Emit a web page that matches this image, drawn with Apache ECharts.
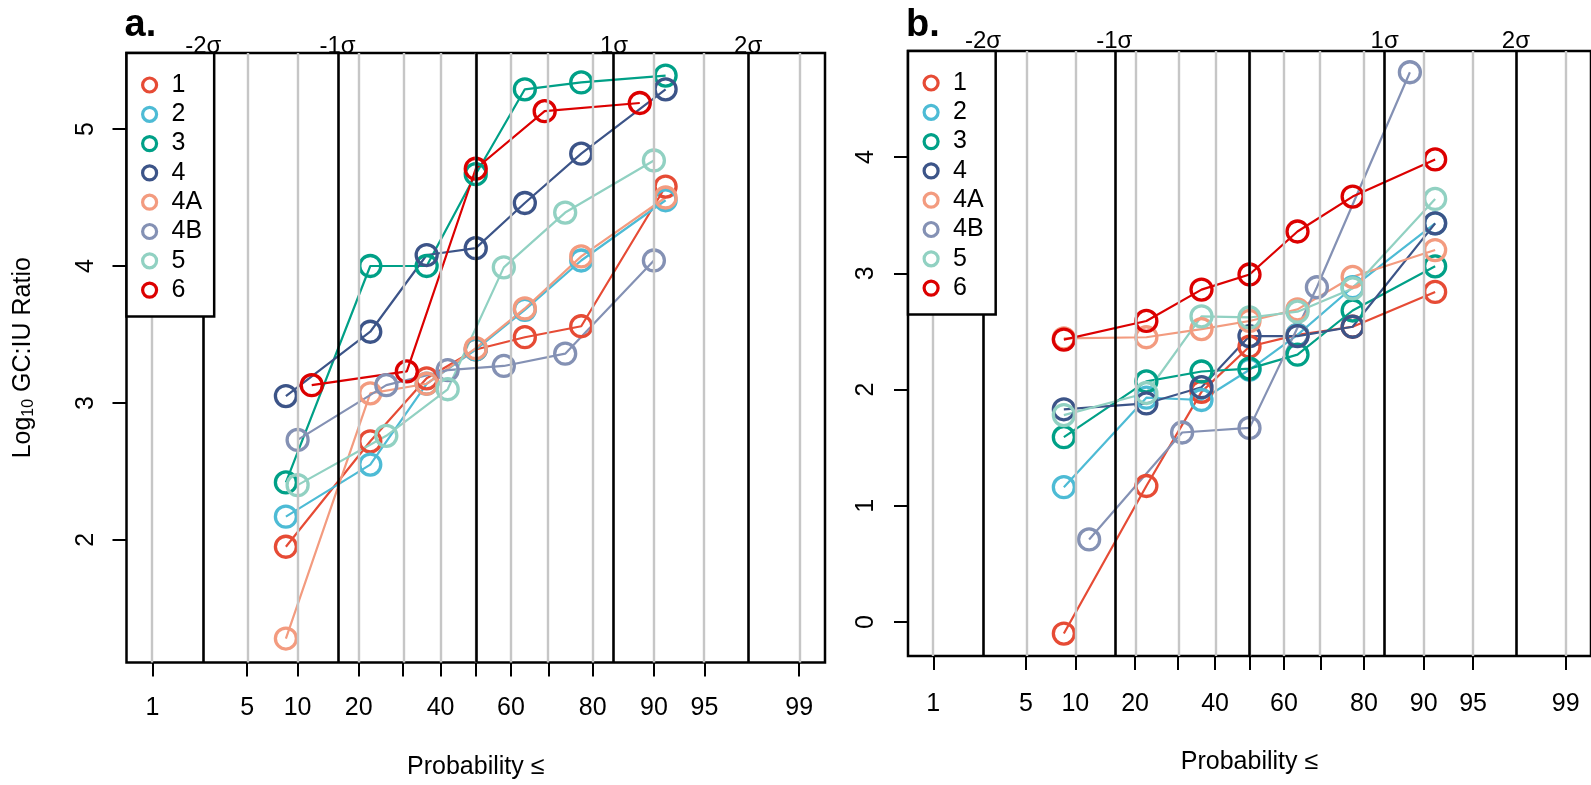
<!DOCTYPE html>
<html>
<head>
<meta charset="utf-8">
<script src="https://cdn.jsdelivr.net/npm/echarts@6/dist/echarts.min.js"></script>
<style>
  html, body { margin: 0; padding: 0; background: #fff; }
  #chart { width: 1591px; height: 785px; }
</style>
</head>
<body>
<div id="chart"></div>
<script>
// groups and colours
const groupNames = ['1', '2', '3', '4', '4A', '4B', '5', '6'];
const groupColors = ['#E64B35', '#4DBBD5', '#00A087', '#3C5488', '#F39B7F', '#8491B4', '#91D1C2', '#DC0000'];

// plotting positions (probability, %)
const pp7 = [8.6, 22.4, 36.2, 50, 63.8, 77.6, 91.4];
const pp6 = [10, 26, 42, 58, 74, 90];
const pp5 = [11.9, 31.0, 50, 69.0, 88.1];

// panel a: log10 GC:IU ratio
const a1 = [1.95, 2.72, 3.18, 3.39, 3.48, 3.56, 4.58];
const a2 = [2.17, 2.55, 3.14, 3.39, 3.68, 4.04, 4.48];
const a3 = [2.42, 4.00, 4.00, 4.67, 5.29, 5.34, 5.39];
const a4 = [3.05, 3.52, 4.08, 4.13, 4.46, 4.82, 5.29];
const a4A = [1.28, 3.07, 3.14, 3.40, 3.69, 4.07, 4.50];
const a4B = [2.73, 3.13, 3.24, 3.27, 3.36, 4.04];
const a5 = [2.40, 2.76, 3.10, 3.99, 4.39, 4.77];
const a6 = [3.13, 3.23, 4.71, 5.13, 5.19];

// panel b
const b1 = [-0.10, 1.17, 1.98, 2.37, 2.47, 2.54, 2.84];
const b2 = [1.16, 1.93, 1.91, 2.17, 2.47, 2.88, 3.43];
const b3 = [1.59, 2.07, 2.155, 2.18, 2.30, 2.68, 3.06];
const b4 = [1.83, 1.88, 2.02, 2.46, 2.46, 2.54, 3.43];
const b4A = [2.44, 2.45, 2.52, 2.59, 2.69, 2.97, 3.20];
const b4B = [0.71, 1.63, 1.67, 2.88, 4.73];
const b5 = [1.78, 1.97, 2.63, 2.62, 2.67, 2.87, 3.64];
const b6 = [2.43, 2.59, 2.86, 2.99, 3.36, 3.66, 3.98];

// axes
const gridProbs = [1, 5, 10, 20, 30, 40, 50, 60, 70, 80, 90, 95, 99];
const labelProbs = [1, 5, 10, 20, 40, 60, 80, 90, 95, 99];
const sigmaProbs = [2.5, 16, 50, 84, 97.5];
const sigmaLabels = ['-2σ', '-1σ', '', '1σ', '2σ'];
const yTicksA = [2, 3, 4, 5];
const yTicksB = [0, 1, 2, 3, 4];

const FONT = '"Liberation Sans", Arial, Helvetica, sans-serif';

// inverse normal cdf (Acklam) - the probability scale
function qnorm(p) {
    const a = [-3.969683028665376e+01, 2.209460984245205e+02, -2.759285104469687e+02, 1.383577518672690e+02, -3.066479806614716e+01, 2.506628277459239e+00];
    const b = [-5.447609879822406e+01, 1.615858368580409e+02, -1.556989798598866e+02, 6.680131188771972e+01, -1.328068155288572e+01];
    const c = [-7.784894002430293e-03, -3.223964580411365e-01, -2.400758277161838e+00, -2.549732539343734e+00, 4.374664141464968e+00, 2.938163982698783e+00];
    const d = [7.784695709041462e-03, 3.224671290700398e-01, 2.445134137142996e+00, 3.754408661907416e+00];
    const plow = 0.02425;
    if (p < plow) {
        const q = Math.sqrt(-2 * Math.log(p));
        return (((((c[0] * q + c[1]) * q + c[2]) * q + c[3]) * q + c[4]) * q + c[5]) / ((((d[0] * q + d[1]) * q + d[2]) * q + d[3]) * q + 1);
    }
    if (p > 1 - plow) {
        const q = Math.sqrt(-2 * Math.log(1 - p));
        return -(((((c[0] * q + c[1]) * q + c[2]) * q + c[3]) * q + c[4]) * q + c[5]) / ((((d[0] * q + d[1]) * q + d[2]) * q + d[3]) * q + 1);
    }
    const q = p - 0.5, r = q * q;
    return (((((a[0] * r + a[1]) * r + a[2]) * r + a[3]) * r + a[4]) * r + a[5]) * q / (((((b[0] * r + b[1]) * r + b[2]) * r + b[3]) * r + b[4]) * r + 1);
}
const z = p => qnorm(p / 100);
const gridZ = gridProbs.map(z);
const labelZ = labelProbs.map(z);
const sigmaZ = sigmaProbs.map(z);
const XMAX = qnorm(0.99) * 1.08;

const panels = [
    {
        label: 'a.', grid: { left: 126.5, top: 53, width: 698.5, height: 610.5 },
        ymin: 1.105, ymax: 5.555, yTicks: yTicksA,
        groups: [[pp7, a1], [pp7, a2], [pp7, a3], [pp7, a4], [pp7, a4A], [pp6, a4B], [pp6, a5], [pp5, a6]],
        legend: { left: 126.5, top: 53 },
        ylabMargin: 28, xlabMargin: 33.5, nameGap: 92.5, sigmaMargin: -5, yName: true
    },
    {
        label: 'b.', grid: { left: 908, top: 51, width: 692, height: 605 },
        ymin: -0.293, ymax: 4.913, yTicks: yTicksB,
        groups: [[pp7, b1], [pp7, b2], [pp7, b3], [pp7, b4], [pp7, b4A], [pp5, b4B], [pp7, b5], [pp7, b6]],
        legend: { left: 908, top: 51 },
        ylabMargin: 29, xlabMargin: 35.5, nameGap: 94, sigmaMargin: -2, yName: false
    }
];

const option = {
    animation: false,
    backgroundColor: '#fff',
    textStyle: { fontFamily: FONT },
    title: [], grid: [], xAxis: [], yAxis: [], legend: [], series: []
};

panels.forEach((pn, k) => {
    option.title.push({
        text: pn.label, left: pn.grid.left - 2, top: 7, padding: 0,
        textStyle: { fontSize: 38, fontWeight: 'bold', color: '#000', fontFamily: FONT }
    });
    option.grid.push(Object.assign({ show: true, borderColor: '#000', borderWidth: 2.5, backgroundColor: 'transparent' }, pn.grid));

    // bottom probability axis
    option.xAxis.push({
        type: 'value', gridIndex: k, position: 'bottom', min: -XMAX, max: XMAX,
        axisLine: { show: false, onZero: false },
        axisTick: { show: true, customValues: gridZ, length: 14, lineStyle: { color: '#000', width: 2 } },
        axisLabel: {
            customValues: labelZ, margin: pn.xlabMargin, fontSize: 25, color: '#000', fontFamily: FONT,
            formatter: v => { const i = labelZ.findIndex(t => Math.abs(t - v) < 1e-6); return i < 0 ? '' : String(labelProbs[i]); }
        },
        splitLine: { show: false },
        name: 'Probability ≤', nameLocation: 'middle', nameGap: pn.nameGap,
        nameTextStyle: { fontSize: 25, color: '#000', fontFamily: FONT }
    });
    // top sigma axis
    option.xAxis.push({
        type: 'value', gridIndex: k, position: 'top', min: -XMAX, max: XMAX,
        axisLine: { show: false, onZero: false },
        axisTick: { show: false },
        axisLabel: {
            customValues: sigmaZ.filter((t, i) => sigmaLabels[i] !== ''), margin: pn.sigmaMargin,
            fontSize: 24, color: '#000', fontFamily: FONT,
            formatter: v => { const i = sigmaZ.findIndex(t => Math.abs(t - v) < 1e-6); return i < 0 ? '' : sigmaLabels[i]; }
        },
        splitLine: { show: false }
    });
    option.yAxis.push({
        type: 'value', gridIndex: k, min: pn.ymin, max: pn.ymax,
        axisLine: { show: false, onZero: false },
        axisTick: { show: true, customValues: pn.yTicks, length: 14, lineStyle: { color: '#000', width: 2 } },
        axisLabel: { customValues: pn.yTicks, rotate: 90, margin: pn.ylabMargin, fontSize: 25, color: '#000', fontFamily: FONT },
        splitLine: { show: false },
        name: pn.yName ? '{n|Log}{s|10}{n| GC:IU Ratio}' : '',
        nameLocation: 'middle', nameGap: 91,
        nameTextStyle: {
            color: '#000', fontFamily: FONT,
            rich: {
                n: { fontSize: 25, lineHeight: 25, verticalAlign: 'top', color: '#000', fontFamily: FONT },
                s: { fontSize: 16, lineHeight: 16, verticalAlign: 'top', padding: [10, 0, 0, 0], color: '#000', fontFamily: FONT }
            }
        }
    });

    const xi = k * 2, yi = k;
    // probability grid lines
    option.series.push({
        type: 'line', xAxisIndex: xi, yAxisIndex: yi, data: [], silent: true, z: 1,
        markLine: {
            silent: true, symbol: ['none', 'none'], label: { show: false },
            lineStyle: { type: 'solid', color: '#c6c6c6', width: 2.4 },
            data: gridZ.map(t => ({ xAxis: t }))
        }
    });
    option.series.push({
        type: 'line', xAxisIndex: xi, yAxisIndex: yi, data: [], silent: true, z: 1.5,
        markLine: {
            silent: true, symbol: ['none', 'none'], label: { show: false },
            lineStyle: { type: 'solid', color: '#000', width: 2.6 },
            data: sigmaZ.map(t => ({ xAxis: t }))
        }
    });

    pn.groups.forEach(([probs, vals], g) => {
        const col = groupColors[g];
        option.series.push({
            name: groupNames[g], type: 'line', xAxisIndex: xi, yAxisIndex: yi, z: 3,
            data: probs.map((p, i) => [z(p), vals[i]]),
            symbol: 'circle', symbolSize: 21,
            itemStyle: { color: 'rgba(255,255,255,0)', borderColor: col, borderWidth: 3.3 },
            lineStyle: { color: col, width: 2.2 },
            emphasis: { disabled: true }
        });
    });

    option.legend.push({
        left: pn.legend.left, top: pn.legend.top, orient: 'vertical',
        backgroundColor: '#fff', borderColor: '#000', borderWidth: 2.5,
        padding: [19.5, 12, 14, 14.5], itemWidth: 14, itemHeight: 14, itemGap: 4.3, selectedMode: false,
        textStyle: { fontSize: 25, lineHeight: 23, color: '#000', fontFamily: FONT, padding: [0, 0, 0, 10] },
        z: 10,
        data: groupNames.map((n, g) => ({
            name: n, icon: 'circle',
            itemStyle: { color: '#fff', borderColor: groupColors[g], borderWidth: 3.2 }
        }))
    });
});

const chart = echarts.init(document.getElementById('chart'), null, { renderer: 'canvas' });
chart.setOption(option);
</script>
</body>
</html>
